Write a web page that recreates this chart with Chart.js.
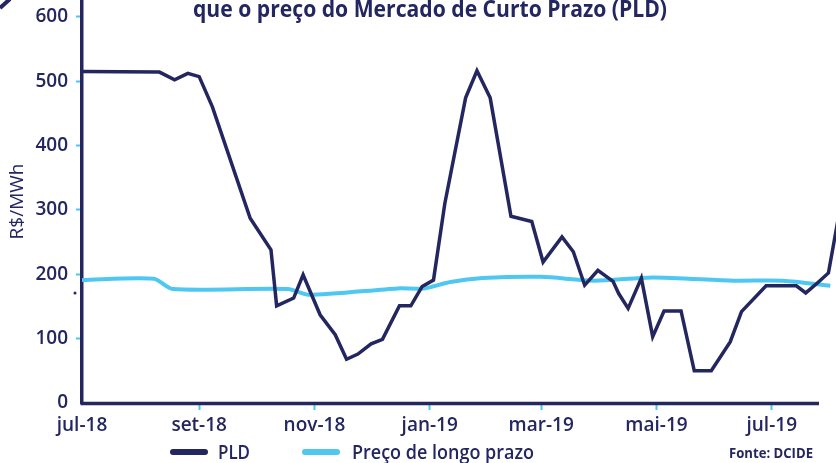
<!DOCTYPE html>
<html lang="pt-BR">
<head>
<meta charset="utf-8">
<title>PLD x Preço de longo prazo</title>
<style>
  html, body { margin: 0; padding: 0; background: #fff; }
  #caixa { width: 836px; height: 463px; }
</style>
<script src="https://cdn.jsdelivr.net/npm/chart.js@4.4.1/dist/chart.umd.min.js"></script>
</head>
<body>
<div id="caixa"><canvas id="grafico" width="836" height="463"></canvas></div>
<script>
// dados (R$/MWh)
const rotulosMeses = ['jul-18', 'set-18', 'nov-18', 'jan-19', 'mar-19', 'mai-19', 'jul-19']
const datasMeses = ['2018-07-01', '2018-09-01', '2018-11-01', '2019-01-01', '2019-03-01', '2019-05-01', '2019-07-01']

const datasPLD = [
  '2018-07-01', '2018-08-11', '2018-08-19', '2018-08-26', '2018-09-01', '2018-09-08', '2018-09-28',
  '2018-10-09', '2018-10-12', '2018-10-21', '2018-10-26', '2018-11-04', '2018-11-12', '2018-11-18',
  '2018-11-24', '2018-12-01', '2018-12-07', '2018-12-16', '2018-12-22', '2018-12-28', '2019-01-03',
  '2019-01-09', '2019-01-20', '2019-01-26', '2019-02-02', '2019-02-13', '2019-02-24', '2019-03-02',
  '2019-03-12', '2019-03-18', '2019-03-24', '2019-03-31', '2019-04-08', '2019-04-11', '2019-04-16',
  '2019-04-23', '2019-04-29', '2019-05-05', '2019-05-14', '2019-05-21', '2019-05-30', '2019-06-09',
  '2019-06-15', '2019-06-28', '2019-07-14', '2019-07-19', '2019-07-25', '2019-07-31', '2019-08-06'
]
const valoresPLD = [
  515, 514, 502, 512, 507, 460, 287,
  238, 151, 163, 199, 137, 106, 68,
  76, 92, 99, 151, 151, 181, 191,
  310, 474, 516, 474, 290, 282, 219,
  258, 235, 183, 206, 189, 170, 147,
  194, 103, 143, 143, 50, 50, 95,
  142, 182, 182, 171, 186, 202, 300
]

const datasLongo = [
  '2018-07-01', '2018-08-08', '2018-08-18', '2018-10-18', '2018-10-29', '2018-12-15', '2018-12-29',
  '2019-01-12', '2019-01-29', '2019-03-01', '2019-03-29', '2019-04-29', '2019-06-11', '2019-07-07',
  '2019-08-01'
]
const valoresLongo = [
  191, 193, 177, 177, 168, 178, 178,
  188, 194, 196, 190, 195, 190, 190,
  182
]

const inicio = '2018-07-01'
const fimEixo = '2019-07-26'     // onde termina a linha do eixo x
const fimGrafico = '2019-08-04'  // borda direita da figura
const limiteY = 626

const azulEscuro = '#23265f'
const azulClaro = '#4ec7f1'

const dia = (s) => (Date.parse(s) - Date.parse(inicio)) / 86400000

function textoAjustado(ctx, texto, x, y, largura, fonte, cor) {
  ctx.save()
  ctx.font = fonte
  ctx.fillStyle = cor
  ctx.textAlign = 'left'
  ctx.textBaseline = 'alphabetic'
  const w = ctx.measureText(texto).width
  ctx.translate(x, y)
  ctx.scale(largura / w, 1)
  ctx.fillText(texto, 0, 0)
  ctx.restore()
}

// título, legenda e fonte desenhados por cima
const extras = {
  id: 'extras',
  afterDraw(chart) {
    const ctx = chart.ctx
    ctx.save()

    // pedacinho do ícone no canto
    ctx.strokeStyle = azulEscuro
    ctx.lineWidth = 4
    ctx.beginPath()
    ctx.moveTo(10, -1)
    ctx.lineTo(0, 8)
    ctx.stroke()

    // pontinho à esquerda do eixo
    ctx.fillStyle = azulEscuro
    ctx.beginPath()
    ctx.arc(75, 293, 1.5, 0, Math.PI * 2)
    ctx.fill()

    textoAjustado(ctx, 'que o preço do Mercado de Curto Prazo (PLD)', 193, 17, 474,
      'bold 23px "Open Sans"', azulEscuro)

    // legenda
    ctx.lineCap = 'round'
    ctx.lineWidth = 6
    ctx.strokeStyle = azulEscuro
    ctx.beginPath(); ctx.moveTo(173, 452); ctx.lineTo(205, 452); ctx.stroke()
    ctx.strokeStyle = azulClaro
    ctx.beginPath(); ctx.moveTo(305, 452); ctx.lineTo(337, 452); ctx.stroke()
    textoAjustado(ctx, 'PLD', 218, 459, 32, '600 19px "Open Sans"', azulEscuro)
    textoAjustado(ctx, 'Preço de longo prazo', 352, 459, 182, '600 19px "Open Sans"', azulEscuro)
    textoAjustado(ctx, 'Fonte: DCIDE', 729, 458, 84, 'bold 15px "Open Sans"', azulEscuro)

    // eixo x
    const x = chart.scales.x
    ctx.lineCap = 'butt'
    ctx.lineWidth = 3.5
    ctx.strokeStyle = azulEscuro
    ctx.beginPath()
    ctx.moveTo(x.left - 1.5, x.top + 0.5)
    ctx.lineTo(x.getPixelForValue(dia(fimEixo)), x.top + 0.5)
    ctx.stroke()

    ctx.restore()
  }
}

const config = {
  type: 'line',
  data: {
    datasets: [
      {
        label: 'PLD',
        data: datasPLD.map((d, i) => ({ x: dia(d), y: valoresPLD[i] })),
        borderColor: azulEscuro,
        backgroundColor: azulEscuro,
        borderWidth: 3.5,
        pointRadius: 0,
        tension: 0
      },
      {
        label: 'Preço de longo prazo',
        data: datasLongo.map((d, i) => ({ x: dia(d), y: valoresLongo[i] })),
        borderColor: azulClaro,
        backgroundColor: azulClaro,
        borderWidth: 4,
        pointRadius: 0,
        tension: 0.25
      }
    ]
  },
  options: {
    responsive: false,
    animation: false,
    layout: { padding: 0 },
    plugins: {
      legend: { display: false },
      tooltip: { enabled: false }
    },
    scales: {
      x: {
        type: 'linear',
        min: 0,
        max: dia(fimGrafico),
        afterBuildTicks: (scale) => {
          scale.ticks = datasMeses.map((d) => ({ value: dia(d) }))
        },
        afterFit: (scale) => {
          scale.height = 60
          scale.paddingLeft = 0
          scale.paddingRight = 0
        },
        border: { display: false },
        grid: {
          drawOnChartArea: false,
          drawTicks: true,
          tickLength: 7,
          tickWidth: 2,
          tickColor: (c) => (c.index === 0 ? 'rgba(0,0,0,0)' : azulClaro)
        },
        ticks: {
          autoSkip: false,
          maxRotation: 0,
          padding: 4,
          color: azulEscuro,
          font: { family: '"Open Sans"', size: 19, weight: '600' },
          callback: (v, i) => rotulosMeses[i]
        }
      },
      y: {
        min: 0,
        max: limiteY,
        afterFit: (scale) => {
          scale.width = 82
          scale.paddingTop = 0
          scale.paddingBottom = 0
        },
        border: { display: true, color: azulEscuro, width: 3.5 },
        grid: {
          drawOnChartArea: false,
          drawTicks: true,
          tickLength: 6,
          tickWidth: 2,
          tickColor: (c) => (c.index === 0 ? 'rgba(0,0,0,0)' : azulClaro)
        },
        ticks: {
          stepSize: 100,
          includeBounds: false,
          padding: 8,
          color: azulEscuro,
          font: { family: '"Open Sans"', size: 19, weight: '600' }
        },
        title: {
          display: true,
          text: 'R$/MWh',
          color: azulEscuro,
          padding: { top: 6, bottom: 0 },
          font: { family: '"Open Sans"', size: 19, weight: '500' }
        }
      }
    }
  },
  plugins: [extras]
}

new Chart(document.querySelector('#grafico'), config)
</script>
</body>
</html>
